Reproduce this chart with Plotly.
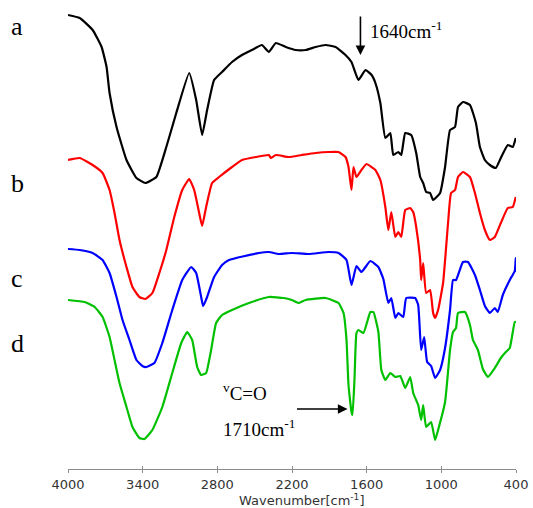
import plotly.graph_objects as go

# FTIR spectra (transmittance, arbitrary units, vertically offset)
wn_a = [4000,3906,3802,3730,3690,3666,3610,3530,3450,3378,3290,3210,3130,3026,2970,2922,2882,2826,2762,2682,
        2602,2522,2442,2386,2330,2250,2170,2090,2010,1930,1850,1770,1722,1666,1610,1560,1530,1490,1450,1410,
        1386,1346,1322,1290,1242,1202,1170,1146,1122,1090,1066,1010,970,930,890,866,826,770,722,690,650,610,
        562,522,466,426,402]
t_a = [454,451,439,422,402,376,342,309,291,286,292,322,356,396,369,334,359,389,397,407,
       414,419,424,417,426,422,419,419,422,424,422,414,407,389,399,394,386,366,331,336,
       314,317,314,336,334,316,292,286,277,276,269,276,302,339,342,362,367,364,346,322,309,304,
       301,311,324,322,331]

wn_b = [4000,3906,3802,3722,3666,3626,3586,3530,3482,3426,3378,3322,3266,3210,3146,3082,3026,2986,2946,2922,
        2890,2842,2786,2682,2602,2490,2386,2370,2330,2226,2122,2010,1906,1826,1770,1746,1722,1706,1682,1642,
        1602,1530,1490,1450,1426,1402,1370,1346,1322,1290,1250,1226,1202,1170,1162,1146,1122,1090,1066,1050,
        1026,986,946,922,890,866,826,770,730,690,650,610,570,522,466,426,402]
t_b = [309,311,304,296,279,256,229,202,182,172,170,176,196,219,252,279,290,279,256,243,
       262,286,292,302,309,312,314,311,314,312,314,316,317,317,312,302,279,302,292,299,
       305,299,289,262,239,257,232,237,232,259,261,257,242,209,189,206,176,179,156,151,
       159,186,246,276,279,292,297,292,276,256,239,229,232,246,261,262,272]

wn_c = [4000,3906,3802,3722,3666,3610,3562,3506,3450,3402,3370,3306,3242,3162,3082,3010,2970,2930,2914,2882,
        2826,2762,2706,2466,2386,2306,2202,2066,1906,1826,1762,1722,1682,1642,1570,1506,1466,1426,1402,1370,
        1346,1306,1282,1210,1186,1162,1138,1114,1082,1050,1010,970,930,906,882,826,786,730,690,650,
        610,570,546,506,450,410,402,400]
t_c = [220,219,216,209,196,172,149,129,109,103,102,106,126,159,189,202,196,172,163,172,
       192,204,209,216,217,215,216,215,217,216,209,184,203,197,208,202,190,166,171,151,
       156,152,171,171,164,119,132,107,103,91,99,121,159,189,189,207,207,194,179,163,
       156,161,157,174,189,198,211,197]

wn_d = [4000,3866,3786,3722,3666,3626,3586,3530,3482,3426,3386,3322,3242,3162,3090,3042,3002,2962,2930,2890,
        2850,2810,2762,2682,2546,2386,2266,2202,2146,2090,1930,1826,1786,1762,1746,1722,1714,1698,1682,1666,
        1626,1570,1546,1506,1482,1450,1410,1370,1330,1290,1250,1226,1186,1162,1146,1122,1082,1050,1026,970,
        930,906,882,866,810,770,746,706,666,626,570,522,482,450,410,400]
t_d = [169,167,162,152,132,109,86,62,42,31,30,39,62,96,126,137,129,102,94,96,
       119,146,154,159,166,172,171,169,166,169,171,166,156,129,84,57,54,89,136,139,
       136,157,157,137,99,89,96,92,93,81,92,76,64,49,64,42,47,29,39,67,
       119,137,141,156,157,144,129,119,100,92,101,111,117,121,147,147]

series = [("a", wn_a, t_a, "#000000"),
          ("b", wn_b, t_b, "#ff0000"),
          ("c", wn_c, t_c, "#0000ff"),
          ("d", wn_d, t_d, "#00c000")]
label_y = {"a": 443, "b": 286, "c": 191, "d": 126}

tick_vals = [4000, 3400, 2800, 2200, 1600, 1000, 400]
tick_text = ["4000", "3400", "2800", "2200", "1600", "1000", "400"]

fig = go.Figure()
for name, wn, t, col in series:
    fig.add_trace(go.Scatter(x=wn, y=t, mode="lines", name=name,
                             line=dict(color=col, width=2.2, shape="spline", smoothing=0.4),
                             showlegend=False, hoverinfo="skip"))
# helper trace to show the inward tick marks on an overlaid axis
fig.add_trace(go.Scatter(x=[4000], y=[0], xaxis="x2", mode="markers",
                         marker=dict(opacity=0), showlegend=False, hoverinfo="skip"))

serif = "Liberation Serif"
anns = []
for name, _, _, _ in series:
    anns.append(dict(x=-0.113, xref="paper", y=label_y[name], yref="y", text=name,
                     showarrow=False, font=dict(family=serif, size=26, color="#000"),
                     xanchor="center", yanchor="middle"))
# 1640 arrow
anns.append(dict(x=1650, y=414, xref="x", yref="y", ax=0, ay=-40, text="", showarrow=True,
                 arrowhead=2, arrowsize=1.2, arrowwidth=1.6, arrowcolor="#000"))
anns.append(dict(x=1586, y=439, xref="x", yref="y", text="1640cm<sup>-1</sup>", showarrow=False,
                 xanchor="left", yanchor="middle", font=dict(family=serif, size=19, color="#000")))
# 1710 arrow
anns.append(dict(x=1754, y=60, xref="x", yref="y", ax=-52, ay=0, text="", showarrow=True,
                 arrowhead=2, arrowsize=1.2, arrowwidth=1.6, arrowcolor="#000"))
anns.append(dict(x=2770, y=77, xref="x", yref="y", text="<sup>v</sup>C=O", showarrow=False,
                 xanchor="left", yanchor="middle", font=dict(family=serif, size=19, color="#000")))
anns.append(dict(x=2770, y=41, xref="x", yref="y", text="1710cm<sup>-1</sup>", showarrow=False,
                 xanchor="left", yanchor="middle", font=dict(family=serif, size=19, color="#000")))
# axis title
anns.append(dict(x=0.522, xref="paper", y=-0.067, yref="paper", text="Wavenumber[cm<sup>-1</sup>]",
                 showarrow=False, xanchor="center", yanchor="middle",
                 font=dict(family="DejaVu Sans", size=13, color="#333")))

fig.update_layout(
    width=533, height=508,
    margin=dict(l=68, r=15, t=5, b=39),
    paper_bgcolor="white", plot_bgcolor="white",
    xaxis=dict(range=[4000, 400], tickvals=tick_vals, ticktext=tick_text,
               showline=True, linecolor="#8c8c8c", linewidth=1.2,
               ticks="outside", ticklen=3, tickcolor="#8c8c8c", tickwidth=1.2,
               showgrid=False, zeroline=False,
               tickfont=dict(family="DejaVu Sans", size=13, color="#333")),
    xaxis2=dict(range=[4000, 400], overlaying="x", anchor="y", side="bottom",
                tickvals=tick_vals, showticklabels=False, ticks="inside", ticklen=3,
                tickcolor="#8c8c8c", tickwidth=1.2, showline=False,
                showgrid=False, zeroline=False),
    yaxis=dict(range=[0, 464], visible=False, fixedrange=True),
    annotations=anns,
)

fig.write_html("out.html", config={"displayModeBar": False},
               post_script="document.body.style.margin='0';")
